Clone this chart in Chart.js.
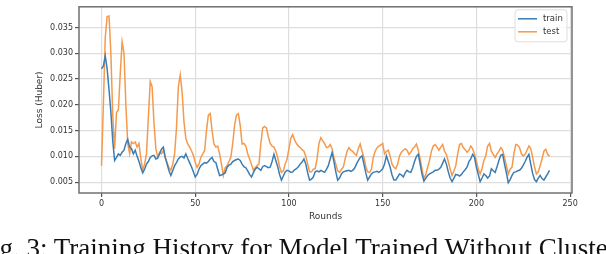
<!DOCTYPE html>
<html>
<head>
<meta charset="utf-8">
<script src="https://cdn.jsdelivr.net/npm/chart.js@4/dist/chart.umd.min.js"></script>
<style>
  html, body { margin: 0; padding: 0; background: #fff; }
  #wrap { position: relative; width: 606px; height: 254px; overflow: hidden; }
  #caption {
    position: absolute; left: -23px; top: 235px;
    font-family: "Liberation Serif", "DejaVu Serif", serif;
    font-size: 27px; line-height: 1; white-space: nowrap; color: #111;
  }
</style>
</head>
<body>
<div id="wrap">
  <canvas id="myChart" width="606" height="254"></canvas>
  <div id="caption">Fig. 3: Training History for Model Trained Without Clustering</div>
</div>
<script>
// loss per round
var trainLoss = [
  0.0270, 0.0275, 0.0295, 0.0270, 0.0230, 0.0186, 0.0130, 0.0092, 0.0098, 0.0105,
  0.0102, 0.0108, 0.0112, 0.0125, 0.0133, 0.0118, 0.0115, 0.0105, 0.0112, 0.0100,
  0.0090, 0.0078, 0.0068, 0.0075, 0.0085, 0.0090, 0.0098, 0.0101, 0.0102, 0.0095,
  0.0097, 0.0105, 0.0114, 0.0118, 0.0098, 0.0085, 0.0072, 0.0063, 0.0072, 0.0082,
  0.0088, 0.0095, 0.0099, 0.0100, 0.0097, 0.0105, 0.0096, 0.0088, 0.0080, 0.0070,
  0.0060, 0.0065, 0.0075, 0.0082, 0.0085, 0.0088, 0.0087, 0.0090, 0.0095, 0.0098,
  0.0090, 0.0088, 0.0075, 0.0063, 0.0064, 0.0066, 0.0068, 0.0079, 0.0083, 0.0085,
  0.0090, 0.0092, 0.0094, 0.0095, 0.0092, 0.0085, 0.0080, 0.0078, 0.0072, 0.0065,
  0.0060, 0.0068, 0.0075, 0.0079, 0.0076, 0.0073, 0.0080, 0.0082, 0.0080, 0.0078,
  0.0079, 0.0090, 0.0104, 0.0092, 0.0080, 0.0065, 0.0054, 0.0062, 0.0070, 0.0073,
  0.0072, 0.0069, 0.0070, 0.0074, 0.0076, 0.0080, 0.0085, 0.0089, 0.0095, 0.0085,
  0.0068, 0.0054, 0.0056, 0.0060, 0.0070, 0.0072, 0.0070, 0.0073, 0.0071, 0.0069,
  0.0075, 0.0082, 0.0095, 0.0107, 0.0090, 0.0070, 0.0054, 0.0058, 0.0066, 0.0070,
  0.0071, 0.0072, 0.0073, 0.0071, 0.0073, 0.0077, 0.0085, 0.0092, 0.0098, 0.0101,
  0.0085, 0.0068, 0.0054, 0.0060, 0.0066, 0.0069, 0.0070, 0.0071, 0.0069, 0.0072,
  0.0076, 0.0085, 0.0101, 0.0090, 0.0079, 0.0064, 0.0054, 0.0054, 0.0060, 0.0066,
  0.0064, 0.0060, 0.0068, 0.0073, 0.0070, 0.0069, 0.0078, 0.0090, 0.0100, 0.0104,
  0.0085, 0.0065, 0.0052, 0.0058, 0.0063, 0.0066, 0.0068, 0.0070, 0.0073, 0.0073,
  0.0075, 0.0079, 0.0087, 0.0095, 0.0085, 0.0070, 0.0058, 0.0051, 0.0058, 0.0065,
  0.0064, 0.0062, 0.0065, 0.0070, 0.0074, 0.0079, 0.0090, 0.0095, 0.0104, 0.0098,
  0.0079, 0.0065, 0.0051, 0.0058, 0.0066, 0.0063, 0.0058, 0.0062, 0.0076, 0.0072,
  0.0069, 0.0080, 0.0092, 0.0102, 0.0104, 0.0085, 0.0068, 0.0049, 0.0055, 0.0063,
  0.0069, 0.0070, 0.0072, 0.0073, 0.0077, 0.0083, 0.0090, 0.0098, 0.0104, 0.0085,
  0.0067, 0.0055, 0.0051, 0.0058, 0.0063, 0.0057, 0.0054, 0.0060, 0.0066, 0.0073
];
var testLoss = [
  0.0082, 0.0200, 0.0330, 0.0371, 0.0372, 0.0300, 0.0180, 0.0115, 0.0185, 0.0190,
  0.0260, 0.0322, 0.0300, 0.0200, 0.0125, 0.0105, 0.0128, 0.0125, 0.0128, 0.0118,
  0.0125, 0.0095, 0.0073, 0.0085, 0.0105, 0.0175, 0.0245, 0.0235, 0.0165, 0.0115,
  0.0098, 0.0108, 0.0105, 0.0112, 0.0098, 0.0088, 0.0078, 0.0073, 0.0085, 0.0105,
  0.0155, 0.0235, 0.0258, 0.0225, 0.0167, 0.0135, 0.0124, 0.0118, 0.0111, 0.0102,
  0.0088, 0.0079, 0.0085, 0.0098, 0.0105, 0.0111, 0.0150, 0.0180, 0.0183, 0.0150,
  0.0124, 0.0118, 0.0120, 0.0105, 0.0085, 0.0063, 0.0078, 0.0082, 0.0090, 0.0098,
  0.0125, 0.0160, 0.0180, 0.0183, 0.0160, 0.0124, 0.0125, 0.0120, 0.0105, 0.0095,
  0.0085, 0.0073, 0.0078, 0.0082, 0.0085, 0.0125, 0.0155, 0.0158, 0.0155, 0.0138,
  0.0125, 0.0120, 0.0118, 0.0110, 0.0098, 0.0080, 0.0069, 0.0072, 0.0085, 0.0095,
  0.0115, 0.0135, 0.0142, 0.0132, 0.0125, 0.0120, 0.0117, 0.0113, 0.0110, 0.0100,
  0.0085, 0.0070, 0.0070, 0.0075, 0.0076, 0.0095, 0.0125, 0.0136, 0.0130, 0.0125,
  0.0117, 0.0118, 0.0123, 0.0115, 0.0098, 0.0085, 0.0072, 0.0069, 0.0075, 0.0079,
  0.0095, 0.0110, 0.0117, 0.0112, 0.0110, 0.0105, 0.0102, 0.0115, 0.0124, 0.0110,
  0.0098, 0.0080, 0.0070, 0.0069, 0.0075, 0.0098, 0.0110, 0.0117, 0.0120, 0.0122,
  0.0125, 0.0105, 0.0110, 0.0112, 0.0100, 0.0085, 0.0079, 0.0076, 0.0085, 0.0101,
  0.0108, 0.0112, 0.0115, 0.0112, 0.0104, 0.0108, 0.0115, 0.0118, 0.0124, 0.0112,
  0.0095, 0.0075, 0.0057, 0.0065, 0.0079, 0.0092, 0.0110, 0.0120, 0.0123, 0.0118,
  0.0112, 0.0118, 0.0123, 0.0110, 0.0104, 0.0090, 0.0075, 0.0063, 0.0072, 0.0082,
  0.0105, 0.0123, 0.0125, 0.0117, 0.0113, 0.0108, 0.0112, 0.0120, 0.0115, 0.0104,
  0.0090, 0.0075, 0.0066, 0.0076, 0.0092, 0.0101, 0.0120, 0.0125, 0.0110, 0.0104,
  0.0098, 0.0105, 0.0110, 0.0117, 0.0112, 0.0098, 0.0082, 0.0066, 0.0075, 0.0079,
  0.0105, 0.0123, 0.0122, 0.0117, 0.0105, 0.0101, 0.0104, 0.0112, 0.0120, 0.0115,
  0.0098, 0.0080, 0.0066, 0.0070, 0.0082, 0.0095, 0.0110, 0.0114, 0.0104, 0.0100
];
var rounds = trainLoss.map(function (v, i) { return i; });
var seriesNames = ["train", "test"];
var seriesColors = ["#3a7db5", "#f59a4c"];

function toPoints(vals) {
  return vals.map(function (v, i) { return { x: rounds[i], y: v }; });
}

// legend drawn inside the plot, top right, plus full frame
var framePlugin = {
  id: "frame",
  afterDraw: function (chart) {
    var ctx = chart.ctx, a = chart.chartArea;
    ctx.save();
    ctx.strokeStyle = "#707070";
    ctx.lineWidth = 1.5;
    ctx.strokeRect(a.left, a.top, a.right - a.left, a.bottom - a.top);

    var w = 52, h = 32, x0 = a.right - w - 5, y0 = a.top + 3;
    ctx.fillStyle = "rgba(255,255,255,0.85)";
    ctx.strokeStyle = "#dddddd";
    ctx.lineWidth = 1;
    ctx.beginPath();
    ctx.roundRect(x0, y0, w, h, 3);
    ctx.fill();
    ctx.stroke();
    ctx.font = "8.5px 'DejaVu Sans'";
    ctx.textBaseline = "middle";
    chart.data.datasets.forEach(function (ds, i) {
      var yy = y0 + 9 + i * 13;
      ctx.strokeStyle = ds.borderColor;
      ctx.lineWidth = 1.5;
      ctx.beginPath();
      ctx.moveTo(x0 + 3, yy);
      ctx.lineTo(x0 + 22, yy);
      ctx.stroke();
      ctx.fillStyle = "#333";
      ctx.fillText(ds.label, x0 + 28, yy);
    });
    ctx.restore();
  }
};

new Chart("myChart", {
  type: "line",
  data: {
    datasets: [
      { label: seriesNames[0], data: toPoints(trainLoss), borderColor: seriesColors[0], borderWidth: 1.5, pointRadius: 0, tension: 0 },
      { label: seriesNames[1], data: toPoints(testLoss), borderColor: seriesColors[1], borderWidth: 1.5, pointRadius: 0, tension: 0 }
    ]
  },
  options: {
    responsive: false,
    animation: false,
    layout: { padding: { left: 0, top: 2, right: 34, bottom: 0 } },
    plugins: { legend: { display: false }, tooltip: { enabled: false } },
    scales: {
      x: {
        type: "linear",
        min: -12, max: 251,
        afterFit: function (s) { s.height = 61; },
        ticks: { stepSize: 50, includeBounds: false, padding: 2, color: "#333", font: { family: "DejaVu Sans", size: 8 } },
        grid: { color: "#dedede", lineWidth: 1.2, tickLength: 4, tickColor: "#555" },
        border: { display: false },
        title: { display: true, text: "Rounds", color: "#333", font: { family: "DejaVu Sans", size: 9 }, padding: { top: 2, bottom: 32 } }
      },
      y: {
        min: 0.0029, max: 0.039,
        afterFit: function (s) { s.width = 79; },
        ticks: {
          stepSize: 0.005, includeBounds: false, padding: 2, color: "#333",
          font: { family: "DejaVu Sans", size: 8 },
          callback: function (v) { return v.toFixed(3); }
        },
        grid: { color: "#dedede", lineWidth: 1.2, tickLength: 4, tickColor: "#555" },
        border: { display: false },
        title: { display: true, text: "Loss (Huber)", color: "#333", font: { family: "DejaVu Sans", size: 9 }, padding: { top: 34, bottom: 0 } }
      }
    }
  },
  plugins: [framePlugin]
});
</script>
</body>
</html>
